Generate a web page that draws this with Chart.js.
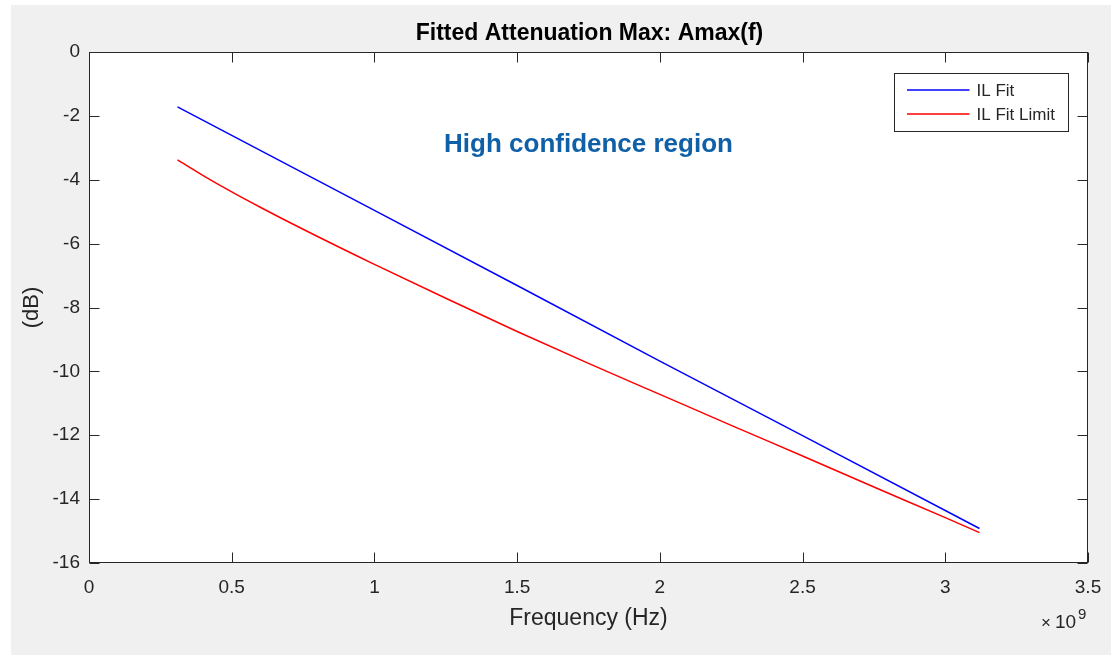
<!DOCTYPE html>
<html><head><meta charset="utf-8">
<script src="https://cdn.jsdelivr.net/npm/chart.js@4.4.0/dist/chart.umd.min.js"></script>
<style>html,body{margin:0;padding:0;background:#fff;}#wrap{position:absolute;left:0;top:0;width:1111px;height:655px;}</style>
</head><body><div id="wrap"><canvas id="c" width="1111" height="655"></canvas></div>
<script>
// ---- data ----
const chartTitle = 'Fitted Attenuation Max: Amax(f)';
const xAxisTitle = 'Frequency (Hz)';
const yAxisTitle = '(dB)';
const annotationText = 'High confidence region';
const seriesNames = ['IL Fit', 'IL Fit Limit'];
const seriesColors = ['#0000ff', '#ff0000'];
const fitFreq = [0.31e9, 1.0e9, 1.5e9, 2.0e9, 2.5e9, 3.12e9];
const fitVals = [-1.72, -4.96, -7.31, -9.68, -12.01, -14.92];
const limitFreq = [0.31e9, 0.40e9, 0.50e9, 0.60e9, 0.75e9, 1.0e9, 1.25e9, 1.5e9, 1.75e9, 2.0e9, 2.25e9, 2.5e9, 2.75e9, 3.0e9, 3.12e9];
const limitVals = [-3.38, -3.87, -4.38, -4.86, -5.55, -6.65, -7.71, -8.75, -9.75, -10.72, -11.69, -12.65, -13.62, -14.58, -15.05];
const xMin = 0, xMax = 3.5e9, xStep = 0.5e9, xExponent = 9;
const yMin = -16, yMax = 0, yStep = 2;
const annotationAt = {x: 1.75e9, y: -2.9};

const FONT = '"Liberation Sans", Arial, Helvetica, sans-serif';
const AXC = '#262626';

const toPts = (xs, ys) => xs.map((x, i) => ({x, y: ys[i]}));

const matlabPlugin = {
  id: 'matlab',
  beforeDraw(chart) {
    const c = chart.ctx;
    c.save();
    c.fillStyle = '#ffffff';
    c.fillRect(0, 0, chart.width, chart.height);
    c.fillStyle = '#f0f0f0';
    c.fillRect(11, 5, chart.width - 11, chart.height - 5);
    const a = chart.chartArea;
    c.fillStyle = '#ffffff';
    c.fillRect(a.left, a.top, a.right - a.left, a.bottom - a.top);
    c.restore();
  },
  afterDraw(chart) {
    const c = chart.ctx, a = chart.chartArea;
    const xs = chart.scales.x, ys = chart.scales.y;
    c.save();
    // box
    c.strokeStyle = AXC; c.lineWidth = 1;
    const L = Math.round(a.left) + 0.5, R = Math.round(a.right) - 0.5;
    const T = Math.round(a.top) + 0.5, B = Math.round(a.bottom) - 0.5;
    c.strokeRect(L, T, R - L, B - T);
    // inward ticks
    const tl = 10;
    c.beginPath();
    xs.ticks.forEach(t => {
      const px = Math.round(xs.getPixelForValue(t.value)) + 0.5;
      c.moveTo(px, B); c.lineTo(px, B - tl);
      c.moveTo(px, T); c.lineTo(px, T + tl);
    });
    ys.ticks.forEach(t => {
      const py = Math.round(ys.getPixelForValue(t.value)) + 0.5;
      c.moveTo(L, py); c.lineTo(L + tl, py);
      c.moveTo(R, py); c.lineTo(R - tl, py);
    });
    c.stroke();
    // title
    c.fillStyle = '#000';
    c.font = 'bold 23px ' + FONT;
    c.textAlign = 'center'; c.textBaseline = 'middle';
    c.fillText(chartTitle, (a.left + a.right) / 2 + 1, 34);
    // annotation
    c.fillStyle = '#1060a8';
    c.font = 'bold 26px ' + FONT;
    c.fillText(annotationText, xs.getPixelForValue(annotationAt.x), ys.getPixelForValue(annotationAt.y));
    // exponent
    c.fillStyle = AXC;
    c.textAlign = 'left'; c.textBaseline = 'alphabetic';
    c.font = '17px ' + FONT;
    c.fillText('\u00d7', a.right - 47, 628);
    c.font = '19px ' + FONT;
    c.fillText('10', a.right - 33, 628);
    c.font = '15px ' + FONT;
    c.fillText(String(xExponent), a.right - 10, 619);
    // legend
    const lx = a.right - 193.5, ly = 73.5, lw = 174, lh = 58;
    c.fillStyle = '#fff';
    c.fillRect(lx, ly, lw, lh);
    c.strokeStyle = AXC; c.lineWidth = 1;
    c.strokeRect(lx, ly, lw, lh);
    c.font = '17px ' + FONT;
    c.textBaseline = 'middle';
    chart.data.datasets.forEach((ds, i) => {
      const yy = 90 + i * 24;
      c.strokeStyle = ds.borderColor; c.lineWidth = 1.5;
      c.beginPath(); c.moveTo(lx + 12.5, yy); c.lineTo(lx + 75, yy); c.stroke();
      c.fillStyle = AXC;
      c.fillText(ds.label, lx + 82, yy + 1);
    });
    c.restore();
  }
};

new Chart(document.getElementById('c'), {
  type: 'scatter',
  data: {
    datasets: [
      {label: seriesNames[0], data: toPts(fitFreq, fitVals), borderColor: seriesColors[0], backgroundColor: seriesColors[0], showLine: true, pointRadius: 0, borderWidth: 1.5},
      {label: seriesNames[1], data: toPts(limitFreq, limitVals), borderColor: seriesColors[1], backgroundColor: seriesColors[1], showLine: true, pointRadius: 0, borderWidth: 1.5, cubicInterpolationMode: 'monotone'}
    ]
  },
  options: {
    responsive: false,
    animation: false,
    devicePixelRatio: 1,
    layout: {padding: {top: 52, right: 23, left: 0, bottom: 0}},
    plugins: {legend: {display: false}, title: {display: false}, tooltip: {enabled: false}},
    scales: {
      x: {
        type: 'linear', min: xMin, max: xMax,
        afterFit(s) { s.height = 92; s.paddingLeft = 0; s.paddingRight = 0; },
        grid: {display: false, drawTicks: false},
        border: {display: false},
        ticks: {stepSize: xStep, padding: 13, color: AXC, font: {family: FONT, size: 19},
          callback: v => String(+(v / Math.pow(10, xExponent)).toFixed(2)), maxRotation: 0, autoSkip: false},
        title: {display: true, text: xAxisTitle, color: AXC, font: {family: FONT, size: 23}, padding: {top: 0, bottom: 23}}
      },
      y: {
        type: 'linear', min: yMin, max: yMax,
        afterFit(s) { s.width = 89; s.paddingTop = 0; s.paddingBottom = 0; },
        grid: {display: false, drawTicks: false},
        border: {display: false},
        ticks: {stepSize: yStep, padding: 9, color: AXC, font: {family: FONT, size: 19}, autoSkip: false},
        title: {display: true, text: yAxisTitle, color: AXC, font: {family: FONT, size: 22}, padding: {top: 19, bottom: 0}}
      }
    }
  },
  plugins: [matlabPlugin]
});
</script></body></html>
